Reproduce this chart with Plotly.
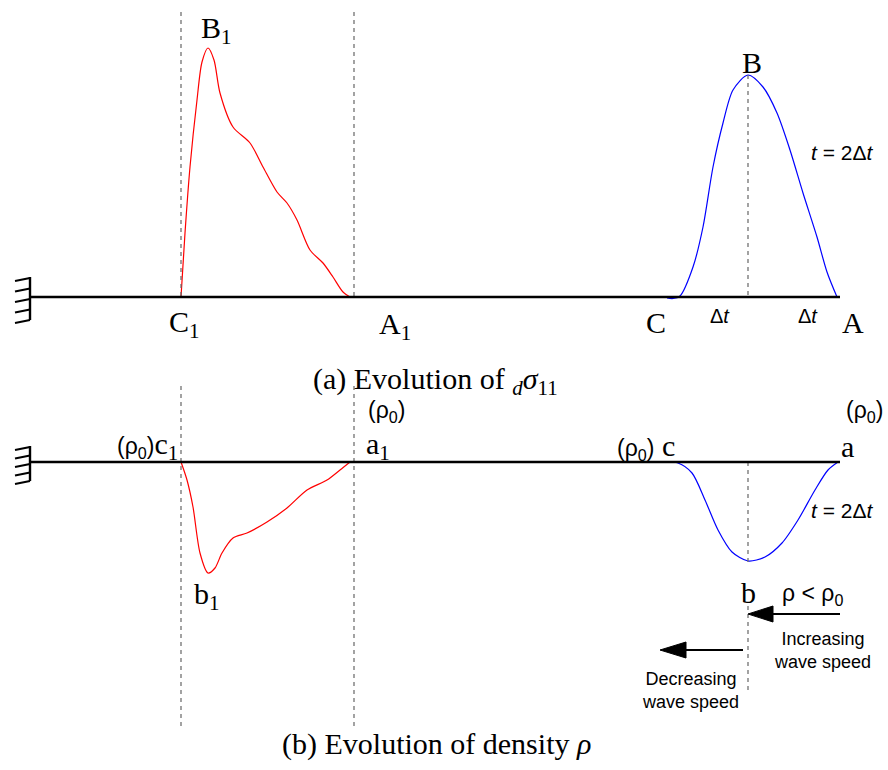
import plotly.graph_objects as go

# ---------------- data (diagram units = pixels of the 888x770 canvas) ----------------
BAR_TOP_Y = 297
BAR_BOT_Y = 462
BAR_X = [30, 840]

# (a) stress pulses
red_a_x = [181, 185, 190, 197, 202, 208, 214, 220, 233, 250, 263, 277, 287, 297, 310, 323, 333, 343, 350]
red_a_y = [297, 233, 167, 100, 62, 48, 60, 93, 127, 143, 167, 192, 203, 220, 250, 263, 277, 292, 297]
blue_a_x = [667, 673, 680, 693, 703, 713, 723, 733, 748, 763, 777, 790, 803, 817, 827, 837]
blue_a_y = [298, 298.5, 296, 267, 227, 167, 123, 90, 75, 87, 113, 150, 193, 237, 272, 297]

# (b) density pulses
red_b_x = [181, 187, 193, 200, 208, 215, 222, 233, 247, 267, 287, 307, 327, 340, 350]
red_b_y = [462, 480, 507, 553, 573, 568, 553, 538, 533, 522, 508, 490, 480, 470, 462]
blue_b_x = [662, 678, 692, 705, 718, 732, 748, 765, 782, 798, 815, 828, 838]
blue_b_y = [462, 463, 473, 500, 530, 552, 561, 557, 543, 520, 490, 470, 462]

dash_x = [181, 354]
fig = go.Figure()

def curve(x, y, color):
    fig.add_trace(go.Scatter(x=x, y=y, mode="lines", line=dict(color=color, width=1.2, shape="spline", smoothing=0.8),
                             hoverinfo="skip", showlegend=False))

DASH = dict(color="#666", width=1.2, dash="4px,4px")
# dashed guides
for dx in dash_x:
    fig.add_shape(type="line", x0=dx, x1=dx, y0=12, y1=BAR_TOP_Y, line=DASH)
    fig.add_shape(type="line", x0=dx, x1=dx, y0=386, y1=726, line=DASH)
fig.add_shape(type="line", x0=748, x1=748, y0=75, y1=BAR_TOP_Y, line=DASH)
fig.add_shape(type="line", x0=748, x1=748, y0=462, y1=562, line=DASH)
fig.add_shape(type="line", x0=748, x1=748, y0=606, y1=692, line=DASH)

# bars
for by in [BAR_TOP_Y, BAR_BOT_Y]:
    fig.add_shape(type="line", x0=BAR_X[0], x1=BAR_X[1], y0=by, y1=by, line=dict(color="black", width=2.6))

# walls
for (y0, y1) in [(277, 320), (446, 481)]:
    fig.add_shape(type="line", x0=30, x1=30, y0=y0, y1=y1, line=dict(color="black", width=2.4))
    n = 5
    for i in range(n):
        hy = y0 + 1 + i * (y1 - y0 - 1) / (n - 1)
        fig.add_shape(type="line", x0=15, x1=30, y0=hy + 3, y1=hy, line=dict(color="black", width=2))

curve(red_a_x, red_a_y, "red")
curve(blue_a_x, blue_a_y, "blue")
curve(red_b_x, red_b_y, "red")
curve(blue_b_x, blue_b_y, "blue")

# arrows
arrows = [(840, 773, 748, 614), (743, 686, 660, 650)]
for (xs, xh, xt, ay) in arrows:
    fig.add_shape(type="line", x0=xs, x1=xh, y0=ay, y1=ay, line=dict(color="black", width=2))
    fig.add_shape(type="path", path=f"M {xt} {ay} L {xh} {ay-8} L {xh} {ay+8} Z",
                  fillcolor="black", line=dict(color="black", width=1))

SERIF = "Liberation Serif"
SANS = "Liberation Sans"

def txt(x, y, s, size=30, family=SERIF, xanchor="center"):
    fig.add_annotation(x=x, y=y, text=s, showarrow=False, font=dict(family=family, size=size, color="black"),
                       xanchor=xanchor, yanchor="middle")

sub = lambda s: f"<sub>{s}</sub>"
RHO0 = "<span style='font-family:Liberation Sans;font-size:23px'>(ρ" + sub("0") + ")</span>"
txt(216, 30, "B" + sub("1"))
txt(184, 324, "C" + sub("1"))
txt(395, 326, "A" + sub("1"))
txt(656, 322, "C")
txt(853, 322, "A")
txt(752, 62, "B")
txt(720, 316, "Δ<i>t</i>", 20, SANS)
txt(808, 316, "Δ<i>t</i>", 20, SANS)
txt(842, 152, "<i>t</i> = 2Δ<i>t</i>", 21, SANS)
txt(435, 381, "(a) Evolution of " + sub("<i>d</i>") + "<i>σ</i>" + sub("11"), 30)

txt(180, 446, RHO0 + "c" + sub("1"), xanchor="right")
txt(386, 411, "(ρ" + sub("0") + ")", 23, SANS)
txt(378, 446, "a" + sub("1"))
txt(646, 446, RHO0 + " c")
txt(864, 411, "(ρ" + sub("0") + ")", 23, SANS)
txt(847, 446, "a")
txt(207, 596, "b" + sub("1"))
txt(748, 592, "b")
txt(812, 594, "ρ < ρ" + sub("0"), 23, SANS)
txt(842, 510, "<i>t</i> = 2Δ<i>t</i>", 21, SANS)
txt(822, 650, "Increasing<br>wave speed", 18, SANS)
txt(690, 690, "Decreasing<br>wave speed", 18, SANS)
txt(436, 744, "(b) Evolution of density <i>ρ</i>", 30)

fig.update_xaxes(range=[0, 888], visible=False, fixedrange=True)
fig.update_yaxes(range=[770, 0], visible=False, fixedrange=True)
fig.update_layout(width=888, height=770, margin=dict(l=0, r=0, t=0, b=0),
                  plot_bgcolor="white", paper_bgcolor="white")
fig.write_html("out.html")
